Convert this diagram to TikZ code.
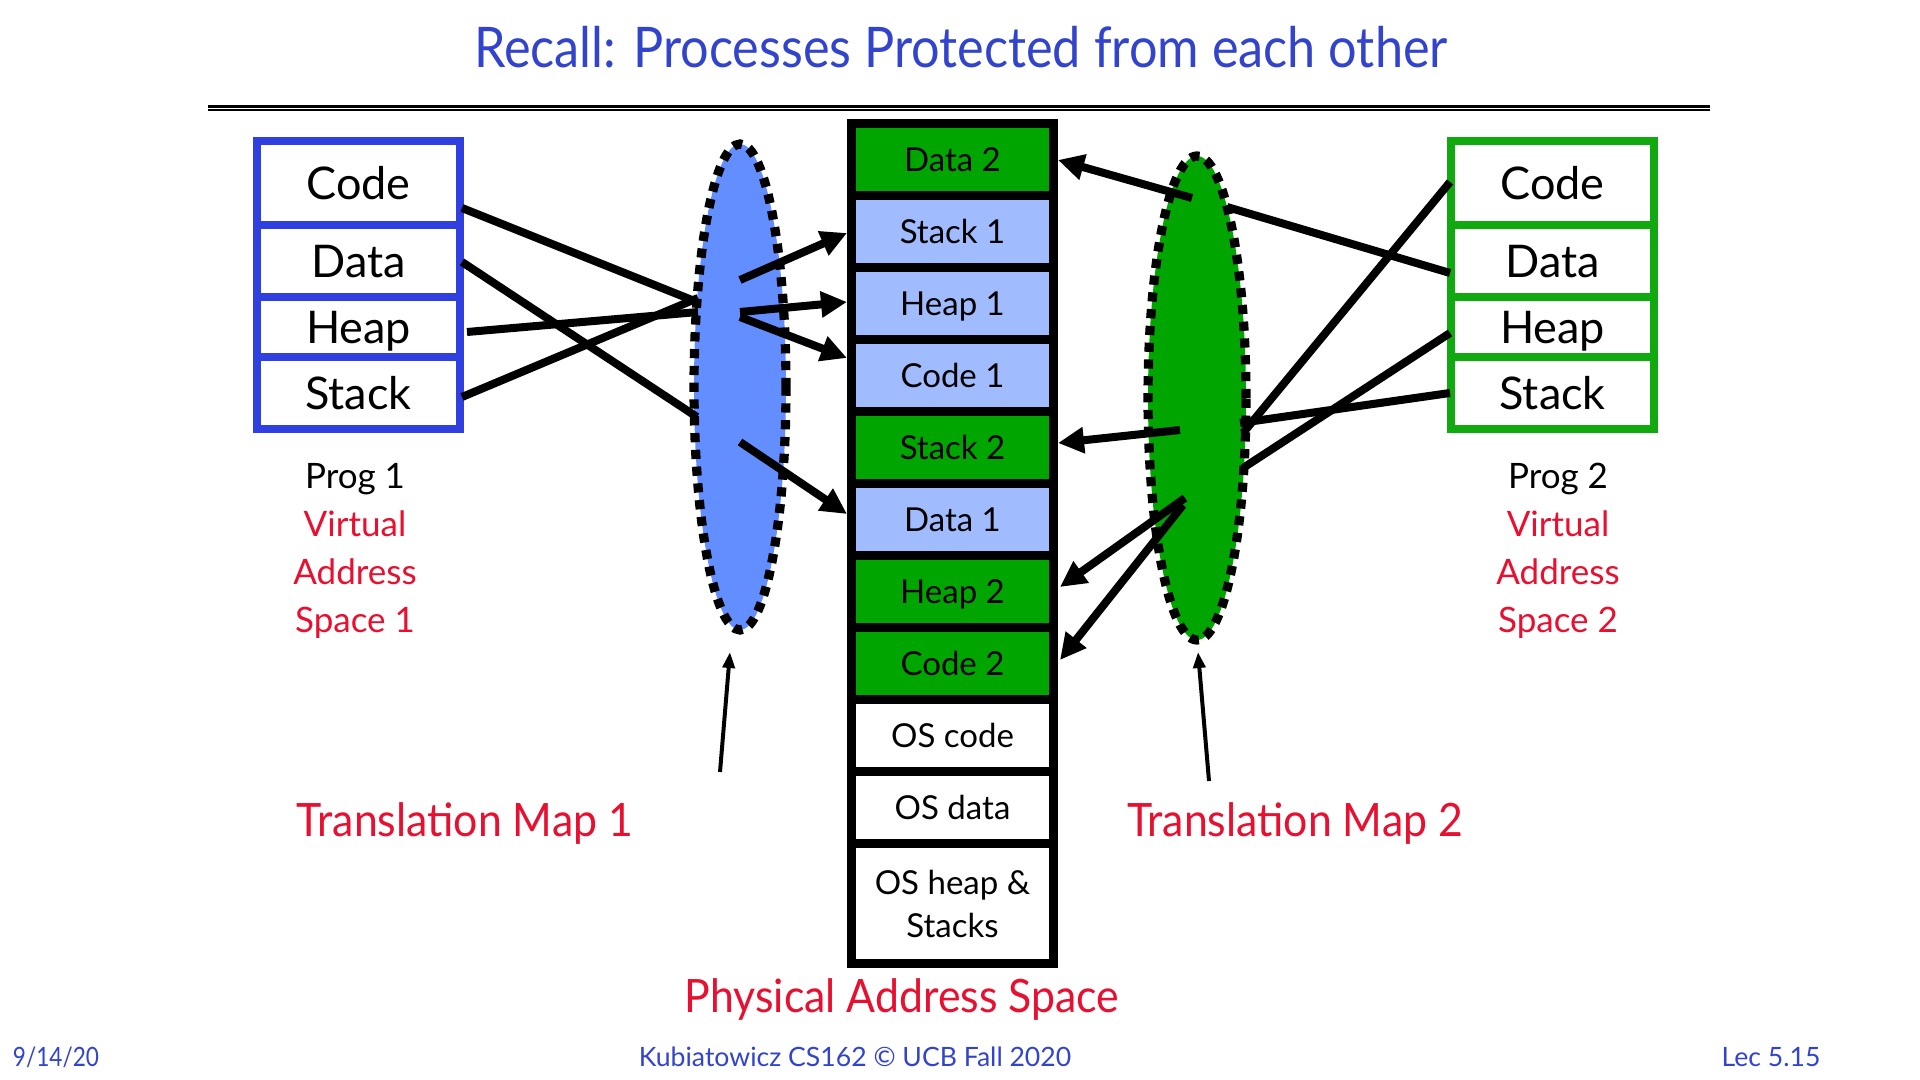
\documentclass[tikz,border=0pt]{standalone}
\usepackage{fontspec}
\setmainfont{Lato}
\newfontfamily\titlefont[FakeStretch=0.9]{Lato}
\newfontfamily\redfont[FakeStretch=0.93]{Lato}
\newfontfamily\datefont[FakeStretch=0.85]{Lato}
\usetikzlibrary{arrows.meta,shapes.geometric}
\definecolor{titleblue}{RGB}{51,68,204}
\definecolor{boxblue}{RGB}{48,64,224}
\definecolor{ellblue}{RGB}{98,142,255}
\definecolor{cellblue}{RGB}{160,188,255}
\definecolor{cellgreen}{RGB}{0,165,0}
\definecolor{boxgreen}{RGB}{16,170,16}
\definecolor{labred}{RGB}{232,16,48}
\tikzset{
  pcell/.style={draw=black, line width=4.5pt, minimum width=101pt, minimum height=36pt, inner sep=0pt, font=\fontsize{16.5}{21.5}\selectfont},
  capc/.style={text height=11.8pt, text depth=0pt},
  vrow/.style={line width=4pt, minimum width=101.5pt, inner sep=0pt, fill=white, font=\fontsize{22.5}{24}\selectfont, text height=16.1pt, text depth=0pt},
  tmap/.style={ellipse, draw=black, line width=4.6pt, dash pattern=on 4.6pt off 3.8pt, inner sep=0pt},
  conn/.style={line width=4pt},
  carrow/.style={line width=4pt, -{Triangle[length=13pt,width=12.5pt]}},
  thinarrow/.style={line width=2pt, -{Triangle[length=8pt,width=6pt]}},
  vlabel/.style={font=\fontsize{17.5}{24}\selectfont, anchor=base, inner sep=0pt},
  biglabel/.style={font=\redfont\fontsize{23}{26}\selectfont, text=labred, anchor=base, inner sep=0pt},
  footer/.style={font=\fontsize{13.3}{15}\selectfont, text=titleblue, anchor=base, inner sep=0pt}
}
\begin{document}
\begin{tikzpicture}[x=0.5pt,y=-0.5pt]
\useasboundingbox (0,0) rectangle (1920,1080);
\fill[white] (0,0) rectangle (1920,1080);

% title and rule
\node[font=\titlefont\fontsize{28}{32}\selectfont, text=titleblue, text height=20pt, text depth=0pt, inner sep=0pt] (title) at (961,48) {Recall: Processes Protected from each other};
\draw[line width=1.5pt] (208,106.2) -- (1710,106.2);
\draw[line width=1pt] (208,109.7) -- (1710,109.7);

% translation maps
\node[tmap, fill=ellblue, minimum width=46pt, minimum height=243pt] (tm1) at (740,387) {};
\node[tmap, fill=cellgreen, minimum width=49pt, minimum height=242pt] (tm2) at (1197,398) {};

% physical address space
\node[pcell,capc,fill=cellgreen] (pd2) at (952.5,159.5) {Data 2};
\node[pcell,capc,fill=cellblue] (ps1) at (952.5,231.5) {Stack 1};
\node[pcell,capc,fill=cellblue] (ph1) at (952.5,303.5) {Heap 1};
\node[pcell,capc,fill=cellblue] (pc1) at (952.5,375.5) {Code 1};
\node[pcell,capc,fill=cellgreen] (ps2) at (952.5,447.5) {Stack 2};
\node[pcell,capc,fill=cellblue] (pda1) at (952.5,519.5) {Data 1};
\node[pcell,capc,fill=cellgreen] (ph2) at (952.5,591.5) {Heap 2};
\node[pcell,capc,fill=cellgreen] (pc2) at (952.5,663.5) {Code 2};
\node[pcell,capc,fill=white] (posc) at (952.5,735.5) {OS code};
\node[pcell,capc,fill=white] (posd) at (952.5,807.5) {OS data};
\node[pcell,fill=white,minimum height=60pt,align=center] (posh) at (952.5,903.5) {OS heap \&\\Stacks};

% program 1 virtual address space
\node[vrow,draw=boxblue,minimum height=42pt] (lcode) at (358.5,183) {Code};
\node[vrow,draw=boxblue,minimum height=36pt] (ldata) at (358.5,261) {Data};
\node[vrow,draw=boxblue,minimum height=30pt] (lheap) at (358.5,327) {Heap};
\node[vrow,draw=boxblue,minimum height=36pt] (lstack) at (358.5,393) {Stack};

% program 2 virtual address space
\node[vrow,draw=boxgreen,minimum height=42pt] (rcode) at (1552.5,183) {Code};
\node[vrow,draw=boxgreen,minimum height=36pt] (rdata) at (1552.5,261) {Data};
\node[vrow,draw=boxgreen,minimum height=30pt] (rheap) at (1552.5,327) {Heap};
\node[vrow,draw=boxgreen,minimum height=36pt] (rstack) at (1552.5,393) {Stack};

% connector end points
\coordinate (lcodeR) at (462,208);
\coordinate (ldataR) at (462,262);
\coordinate (lheapR) at (467,332);
\coordinate (lstackR) at (462,397);
\coordinate (m1code) at (697,302);
\coordinate (m1data) at (697,417);
\coordinate (m1heap) at (698,312);
\coordinate (m1stack) at (698,298);
\coordinate (o1stack) at (740,280);
\coordinate (o1heap) at (740,312);
\coordinate (o1code) at (740,317);
\coordinate (o1data) at (740,442);
\coordinate (ps1L) at (847,233);
\coordinate (ph1L) at (847,302);
\coordinate (pc1L) at (847,358);
\coordinate (pda1L) at (847,514);

\coordinate (rcodeL) at (1450,182);
\coordinate (rdataL) at (1450,273);
\coordinate (rheapL) at (1450,333);
\coordinate (rstackL) at (1450,393);
\coordinate (m2code) at (1243,433);
\coordinate (m2data) at (1227,207);
\coordinate (m2heap) at (1243,468);
\coordinate (m2stack) at (1240,423);
\coordinate (o2data) at (1192,198);
\coordinate (o2stack) at (1180,430);
\coordinate (o2heap) at (1185,498);
\coordinate (o2code) at (1183,505);
\coordinate (pd2R) at (1058,160);
\coordinate (ps2R) at (1058,443);
\coordinate (ph2R) at (1060,587);
\coordinate (pc2R) at (1060,660);

% map 1 connectors
\draw[conn] (lcodeR) -- (m1code);
\draw[conn] (ldataR) -- (m1data);
\draw[conn] (lheapR) -- (m1heap);
\draw[conn] (lstackR) -- (m1stack);
\draw[carrow] (o1stack) -- (ps1L);
\draw[carrow] (o1heap) -- (ph1L);
\draw[carrow] (o1code) -- (pc1L);
\draw[carrow] (o1data) -- (pda1L);

% map 2 connectors
\draw[conn] (rdataL) -- (m2data);
\draw[conn] (rcodeL) -- (m2code);
\draw[conn] (rheapL) -- (m2heap);
\draw[conn] (rstackL) -- (m2stack);
\draw[carrow] (o2data) -- (pd2R);
\draw[carrow] (o2stack) -- (ps2R);
\draw[carrow] (o2heap) -- (ph2R);
\draw[carrow] (o2code) -- (pc2R);

% labels under the programs
\node[vlabel] (p1a) at (355,488) {Prog 1};
\node[vlabel,text=labred] (p1b) at (355,536) {Virtual};
\node[vlabel,text=labred] (p1c) at (355,584) {Address};
\node[vlabel,text=labred] (p1d) at (355,632) {Space 1};
\node[vlabel] (p2a) at (1558,488) {Prog 2};
\node[vlabel,text=labred] (p2b) at (1558,536) {Virtual};
\node[vlabel,text=labred] (p2c) at (1558,584) {Address};
\node[vlabel,text=labred] (p2d) at (1558,632) {Space 2};

% translation map labels
\coordinate (t1s) at (720,772);
\coordinate (t1e) at (730,652);
\coordinate (t2s) at (1209,781);
\coordinate (t2e) at (1198,652);
\draw[thinarrow] (t1s) -- (t1e);
\draw[thinarrow] (t2s) -- (t2e);
\node[biglabel] (tl1) at (465,836) {Translation Map 1};
\node[biglabel] (tl2) at (1295,836) {Translation Map 2};
\node[biglabel] (pas) at (902,1012) {Physical Address Space};

% footer
\node[footer,font=\datefont\fontsize{13.3}{15}\selectfont] (fdate) at (56,1066) {9/14/20};
\node[footer] (fmid) at (855,1066) {Kubiatowicz CS162 © UCB Fall 2020};
\node[footer] (flec) at (1771,1066) {Lec 5.15};
\end{tikzpicture}
\end{document}
